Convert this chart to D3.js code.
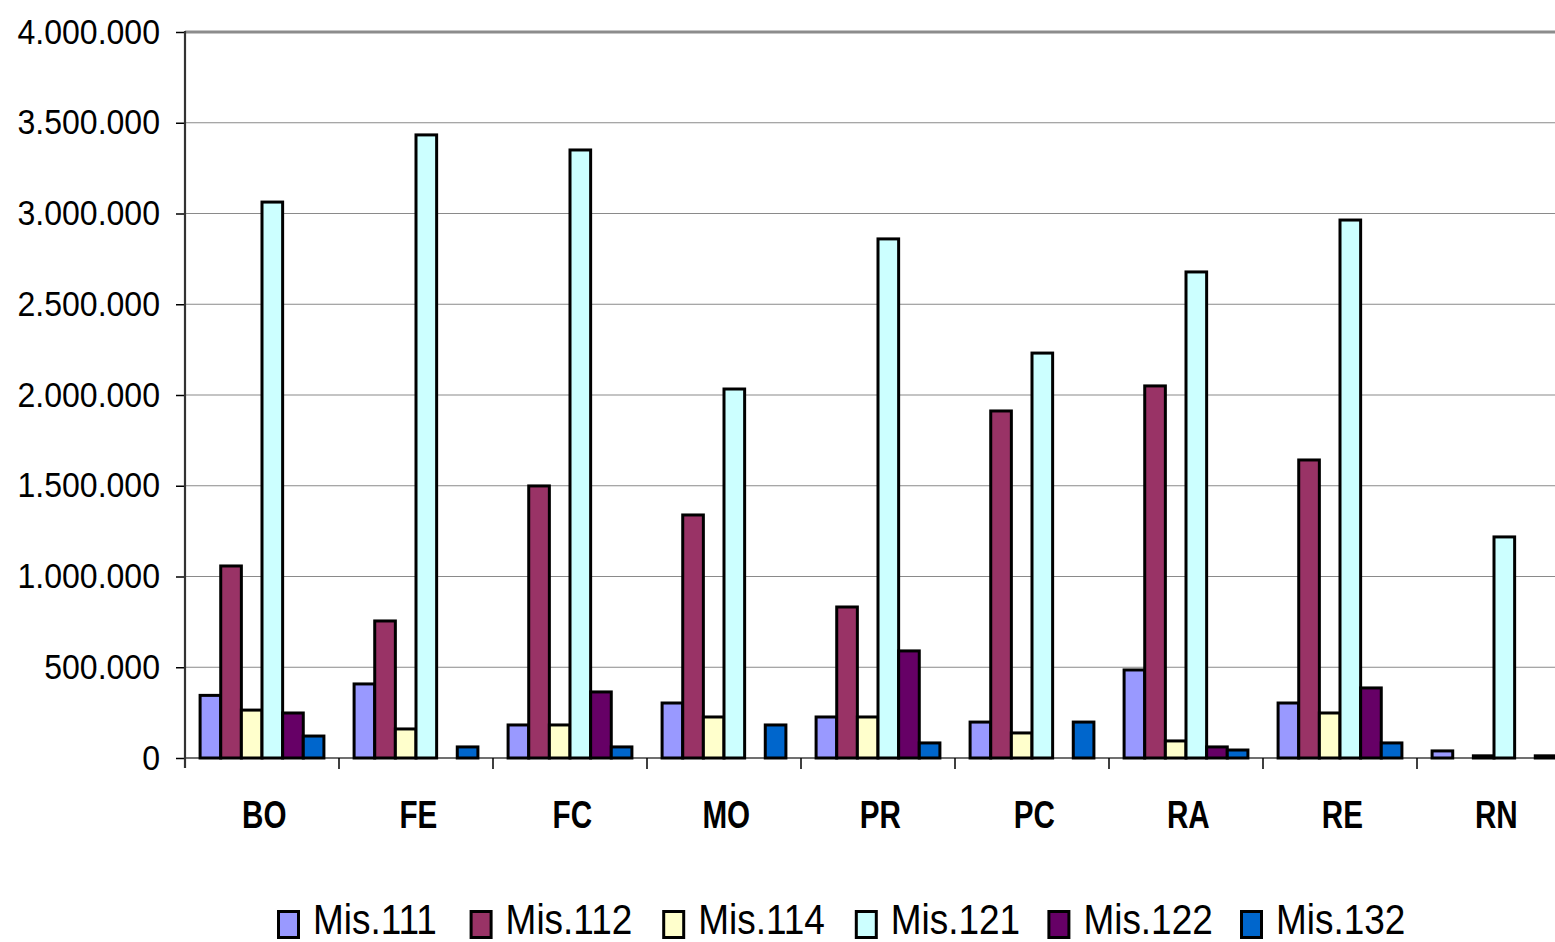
<!DOCTYPE html>
<html><head><meta charset="utf-8">
<script src="https://cdn.jsdelivr.net/npm/d3@7"></script>
<style>body{margin:0;background:#fff;overflow:hidden}svg{display:block}text{font-family:"Liberation Sans",Arial,sans-serif}</style>
</head><body>
<svg id="c" width="1555" height="942"></svg>
<script>
const categories = ["BO","FE","FC","MO","PR","PC","RA","RE","RN"];
const seriesNames = ["Mis.111","Mis.112","Mis.114","Mis.121","Mis.122","Mis.132"];
const mis111 = [345000, 408000, 182000, 303000, 226000, 198000, 485000, 303000, 39000];
const mis112 = [1058000, 755000, 1499000, 1339000, 832000, 1912000, 2050000, 1642000, 0];
const mis114 = [264000, 160000, 182000, 226000, 226000, 138000, 94000, 248000, 12000];
const mis121 = [3063000, 3433000, 3350000, 2033000, 2860000, 2231000, 2678000, 2964000, 1218000];
const mis122 = [248000, 0, 364000, 0, 590000, 0, 61000, 386000, 0];
const mis132 = [121000, 61000, 61000, 182000, 83000, 198000, 44000, 83000, 12000];
const yTicks = [0,500000,1000000,1500000,2000000,2500000,3000000,3500000,4000000];
const colors = ["#9999FF","#993366","#FFFFCC","#CCFFFF","#660066","#0066CC"];

(function(){
const series = [mis111, mis112, mis114, mis121, mis122, mis132];
const svg = d3.select("#c");
const left = 185, plotTop = 32, bottom = 758;
const x0 = d3.scaleBand().domain(categories).range([left, left + 154*9]).padding(0);
const bw = x0.bandwidth();
const x1 = d3.scaleBand().domain(seriesNames).range([bw*0.098, bw*0.902]).padding(0);
const y = d3.scaleLinear().domain([0, 4000000]).range([bottom, plotTop]);
const loc = d3.formatLocale({decimal:",", thousands:".", grouping:[3], currency:["",""]});
const fmt = loc.format(",");

// gridlines
svg.append("g").selectAll("line").data(yTicks.filter(d => d>0)).join("line")
  .attr("x1", left).attr("x2", 1555)
  .attr("y1", d => y(d)).attr("y2", d => y(d))
  .attr("stroke", d => d===4000000 ? "#8c8c8c" : "#8a8a8a")
  .attr("stroke-width", d => d===4000000 ? 3 : 1.2);

// baseline
svg.append("line").attr("x1", left).attr("x2", 1555).attr("y1", y(0)).attr("y2", y(0))
  .attr("stroke","#707070").attr("stroke-width",2);

// y axis
const ya = svg.append("g").attr("transform", `translate(${left},0)`)
  .call(d3.axisLeft(y).tickValues(yTicks).tickSize(9).tickFormat(""));
ya.select(".domain").remove();
ya.selectAll(".tick line").attr("stroke","#000").attr("stroke-width",1.5);
svg.append("line").attr("x1",left).attr("x2",left).attr("y1",plotTop-1).attr("y2",bottom+10)
  .attr("stroke","#333").attr("stroke-width",2.2);

svg.append("g").selectAll("text").data(yTicks).join("text")
  .attr("transform", d => `translate(160,${y(d)+11.5}) scale(0.89,1)`)
  .attr("text-anchor","end").attr("font-size",36).attr("fill","#000")
  .text(d => fmt(d));

// category ticks
const xa = svg.append("g").attr("transform", `translate(0,${bottom})`)
  .call(d3.axisBottom(x0).tickSize(0).tickFormat(""));
xa.select(".domain").remove();
svg.append("g").selectAll("line").data(categories.slice(1)).join("line")
  .attr("x1", d => x0(d)).attr("x2", d => x0(d))
  .attr("y1", bottom).attr("y2", bottom+11)
  .attr("stroke","#000").attr("stroke-width",1.5);

// bars
const groups = svg.append("g").selectAll("g").data(categories).join("g")
  .attr("transform", d => `translate(${x0(d)},0)`);
groups.selectAll("rect").data((c,ci) => series.map((s,si) => ({v:s[ci], si})))
  .join("rect")
  .attr("x", d => x1(seriesNames[d.si]))
  .attr("width", x1.bandwidth())
  .attr("y", d => y(d.v))
  .attr("height", d => bottom - y(d.v))
  .attr("fill", d => colors[d.si])
  .attr("stroke", "#000").attr("stroke-width", 3)
  .attr("display", d => d.v > 0 ? null : "none");

// category labels
svg.append("g").selectAll("text").data(categories).join("text")
  .attr("transform", d => `translate(${x0(d)+bw*0.515},828) scale(0.76,1)`)
  .attr("text-anchor","middle").attr("font-size",39).attr("font-weight","bold")
  .text(d => d);

// legend
const lg = svg.append("g").selectAll("g").data(seriesNames).join("g")
  .attr("transform", (d,i) => `translate(${277 + i*192.6},0)`);
lg.append("rect").attr("x",1.5).attr("y",911.5).attr("width",20).attr("height",26)
  .attr("fill",(d,i)=>colors[i]).attr("stroke","#000").attr("stroke-width",3);
lg.append("text").attr("transform","translate(36,934) scale(0.88,1)")
  .attr("font-size",42).text(d=>d);
})();
</script>
</body></html>
